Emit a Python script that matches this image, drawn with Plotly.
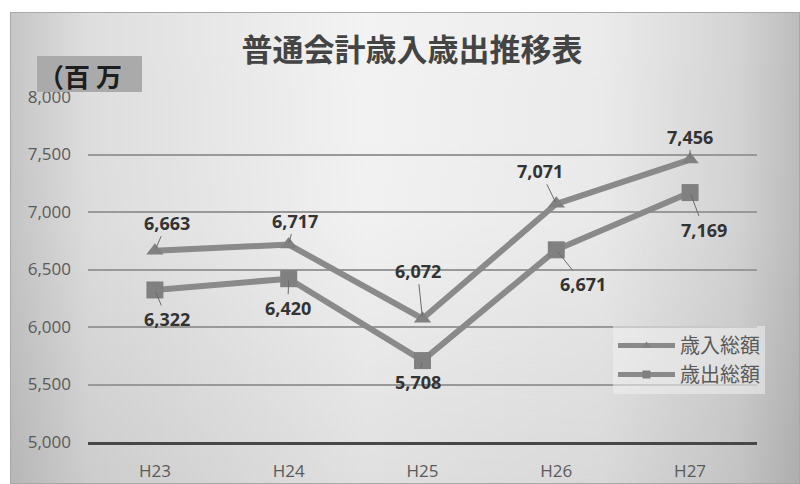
import base64
import plotly.graph_objects as go

# Fiscal years and general-account totals (millions of yen)
years = ["H23", "H24", "H25", "H26", "H27"]
revenue = [6663, 6717, 6072, 7071, 7456]
expenditure = [6322, 6420, 5708, 6671, 7169]
y_ticks = [5000, 5500, 6000, 6500, 7000, 7500, 8000]

# label offsets (pixels) from each point to its value label
rev_offsets = [(12, -28), (6, -24), (-5, -48), (-16, -33), (0, -23)]
exp_offsets = [(12, 29), (-1, 29), (-5, 21), (27, 34), (14, 37)]

W, H = 800, 484
L, R, T, B = 88, 43, 97, 42
PW, PH = W - L - R, H - T - B

LINE = "#8a8a8a"
MARK = "#808080"
TXT = "#333333"
TICK = "#5a5a5a"
JP = "Noto Sans CJK JP"
NUM = "Open Sans"


def px_x(px):
    return (px - L) / PW


def px_y(py):
    return (H - B - py) / PH


# chart background: light centre, darker side edges, slightly darker bottom
svg = (
    '<svg xmlns="http://www.w3.org/2000/svg" width="790" height="472" '
    'viewBox="0 0 790 472" preserveAspectRatio="none">'
    '<defs>'
    '<linearGradient id="h" x1="0" y1="0" x2="1" y2="0">'
    '<stop offset="0" stop-color="#c6c6c6"/>'
    '<stop offset="0.1" stop-color="#dedede"/>'
    '<stop offset="0.45" stop-color="#f3f3f3"/>'
    '<stop offset="0.75" stop-color="#ebebeb"/>'
    '<stop offset="0.92" stop-color="#d4d4d4"/>'
    '<stop offset="1" stop-color="#bcbcbc"/>'
    '</linearGradient>'
    '<linearGradient id="v" x1="0" y1="0" x2="0" y2="1">'
    '<stop offset="0" stop-color="#000" stop-opacity="0"/>'
    '<stop offset="0.45" stop-color="#000" stop-opacity="0.01"/>'
    '<stop offset="1" stop-color="#000" stop-opacity="0.08"/>'
    '</linearGradient>'
    '</defs>'
    '<rect x="0" y="0" width="790" height="472" fill="url(#h)"/>'
    '<rect x="0" y="0" width="790" height="472" fill="url(#v)"/>'
    '<rect x="0.5" y="0.5" width="789" height="471" fill="none" '
    'stroke="#a8a8a8" stroke-width="1"/></svg>'
)
bg_src = "data:image/svg+xml;base64," + base64.b64encode(svg.encode()).decode()

fig = go.Figure()

fig.add_trace(go.Scatter(
    x=years, y=revenue, mode="lines+markers", name="歳入総額", showlegend=False,
    line=dict(color=LINE, width=6),
    marker=dict(symbol="triangle-up", size=15, color=MARK),
))
fig.add_trace(go.Scatter(
    x=years, y=expenditure, mode="lines+markers", name="歳出総額", showlegend=False,
    line=dict(color=LINE, width=6),
    marker=dict(symbol="square", size=17, color=MARK),
))
# legend entries with smaller symbols
fig.add_trace(go.Scatter(
    x=[None], y=[None], mode="lines+markers", name="歳入総額",
    line=dict(color=LINE, width=5),
    marker=dict(symbol="triangle-up", size=8, color=MARK),
))
fig.add_trace(go.Scatter(
    x=[None], y=[None], mode="lines+markers", name="歳出総額",
    line=dict(color=LINE, width=5),
    marker=dict(symbol="square", size=8, color=MARK),
))

annotations = []
for series, offsets in ((revenue, rev_offsets), (expenditure, exp_offsets)):
    for yr, v, (ax, ay) in zip(years, series, offsets):
        annotations.append(dict(
            x=yr, y=v, xref="x", yref="y", text=f"{v:,}",
            showarrow=True, arrowhead=0, arrowwidth=1, arrowcolor="#6a6a6a",
            ax=ax, ay=ay, standoff=2,
            font=dict(family=NUM, size=18, color=TXT, weight="bold"),
        ))

# unit caption box
annotations.append(dict(
    x=px_x(36), y=px_y(75), xref="paper", yref="paper",
    xanchor="left", yanchor="middle", showarrow=False,
    text="（百 万", font=dict(family=JP, size=26, color="#1e1e1e", weight="bold"),
))

fig.update_layout(
    width=W, height=H,
    margin=dict(l=L, r=R, t=T, b=B, autoexpand=False),
    paper_bgcolor="white",
    plot_bgcolor="rgba(0,0,0,0)",
    title=dict(
        text="普通会計歳入歳出推移表", x=412 / W, xanchor="center",
        y=1 - 50 / H, yanchor="middle", yref="container",
        font=dict(family=JP, size=31, color="#444444", weight="bold"),
    ),
    xaxis=dict(
        type="category", range=[-0.5, 4.5], showgrid=False,
        showline=True, linecolor="#474747", linewidth=3,
        ticks="", ticklabelstandoff=12, automargin=False,
        tickfont=dict(family=NUM, size=17, color=TICK),
        fixedrange=True,
    ),
    yaxis=dict(
        range=[5000, 8000], tickvals=y_ticks, tickformat=",d",
        showgrid=True, gridcolor="#999999", gridwidth=1.5,
        zeroline=False, showline=False, ticks="", ticklabelstandoff=16,
        automargin=False,
        tickfont=dict(family=NUM, size=17, color=TICK),
        fixedrange=True,
    ),
    legend=dict(
        x=px_x(613), y=px_y(326), xanchor="left", yanchor="top",
        bgcolor="rgba(240,240,240,0.55)", borderwidth=0,
        font=dict(family=JP, size=20, color=TICK),
        tracegroupgap=0, itemwidth=57,
    ),
    images=[dict(
        source=bg_src, xref="paper", yref="paper",
        x=px_x(10), y=px_y(12), sizex=790 / PW, sizey=472 / PH,
        xanchor="left", yanchor="top", sizing="stretch", layer="below",
    )],
    shapes=[dict(
        type="rect", xref="paper", yref="paper", layer="above",
        x0=px_x(37), x1=px_x(142), y0=px_y(92), y1=px_y(56),
        fillcolor="#aaaaaa", line=dict(width=0),
    )],
    annotations=annotations,
)

fig.write_html("out.html")
